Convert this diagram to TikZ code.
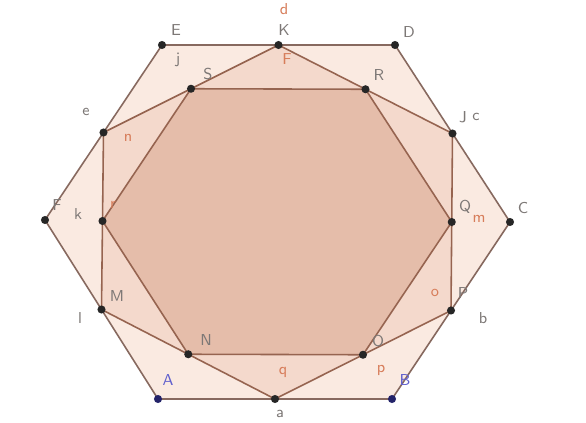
\documentclass[tikz,border=0pt]{standalone}
\usetikzlibrary{calc,backgrounds}
\definecolor{outerfill}{RGB}{250,234,225}
\definecolor{midfill}{RGB}{244,217,204}
\definecolor{innerfill}{RGB}{229,189,170}
\definecolor{outeredge}{RGB}{135,105,95}
\definecolor{hexbrown}{RGB}{150,100,80}
\definecolor{labelgray}{RGB}{125,120,118}
\definecolor{ptblue}{RGB}{35,35,105}
\definecolor{labelblue}{RGB}{95,95,205}
\definecolor{labelorange}{RGB}{215,125,90}

\begin{document}
\begin{tikzpicture}[x=0.02cm, y=-0.02cm,
  font=\sffamily\small,
  pt/.style={circle, fill=black!85, inner sep=0pt, minimum size=4.6pt},
  bluept/.style={pt, fill=ptblue},
  outer/.style={draw=outeredge, line width=0.9pt},
  hex/.style={draw=hexbrown, line width=0.9pt},
  lbl/.style={text=labelgray, inner sep=0pt},
  bluelbl/.style={lbl, text=labelblue},
  orangelbl/.style={lbl, text=labelorange}
]

\useasboundingbox (0,0) rectangle (586,423);

% outer hexagon
\node[bluept] (A) at (158,399) {};
\node[bluept] (B) at (392,399) {};
\node[pt] (C) at (510,222) {};
\node[pt] (D) at (395,45) {};
\node[pt] (E) at (162,45) {};
\node[pt] (F) at (45,220) {};

% midpoints of the sides
\node[pt] (H) at ($(A)!0.5!(B)$) {};
\node[pt] (I) at ($(B)!0.5!(C)$) {};
\node[pt] (J) at ($(C)!0.5!(D)$) {};
\node[pt] (K) at ($(D)!0.5!(E)$) {};
\node[pt] (L) at ($(E)!0.5!(F)$) {};
\node[pt] (M) at ($(F)!0.5!(A)$) {};

% inner hexagon
\node[pt] (N) at ($(M)!0.5!(H)$) {};
\node[pt] (O) at ($(H)!0.5!(I)$) {};
\node[pt] (Q) at ($(I)!0.5!(J)$) {};
\node[pt] (R) at ($(J)!0.5!(K)$) {};
\node[pt] (S) at ($(K)!0.5!(L)$) {};
\node[pt] (T) at ($(L)!0.5!(M)$) {};

\begin{scope}[on background layer]
  \fill[white] (0,0) rectangle (586,423);
  \fill[outerfill] (A.center) -- (B.center) -- (C.center) -- (D.center) -- (E.center) -- (F.center) -- cycle;
  \fill[midfill] (H.center) -- (I.center) -- (J.center) -- (K.center) -- (L.center) -- (M.center) -- cycle;
  \fill[innerfill] (N.center) -- (O.center) -- (Q.center) -- (R.center) -- (S.center) -- (T.center) -- cycle;
  \draw[outer] (A.center) -- (B.center) -- (C.center) -- (D.center) -- (E.center) -- (F.center) -- cycle;
  \draw[hex] (H.center) -- (I.center) -- (J.center) -- (K.center) -- (L.center) -- (M.center) -- cycle;
  \draw[hex] (N.center) -- (O.center) -- (Q.center) -- (R.center) -- (S.center) -- (T.center) -- cycle;
\end{scope}

% labels
\node[bluelbl] (labA) at (168,380) {A};
\node[bluelbl] (labB) at (405,380) {B};
\node[lbl] (labC) at (523,208) {C};
\node[lbl] (labD) at (409,32) {D};
\node[lbl] (labE) at (176,30) {E};
\node[lbl] (labF) at (57,205) {F};
\node[lbl] (labJ) at (463,117) {J};
\node[lbl] (labK) at (284,30) {K};
\node[lbl] (labM) at (117,296) {M};
\node[lbl] (labN) at (206,340) {N};
\node[lbl] (labO) at (378,341) {O};
\node[lbl] (labP) at (463,293) {P};
\node[lbl] (labQ) at (465,207) {Q};
\node[lbl] (labR) at (379,75) {R};
\node[lbl] (labS) at (208,74) {S};
\node[orangelbl] (labFt) at (287,59) {F};

\node[lbl] (laba) at (280,414) {a};
\node[lbl] (labb) at (483,318) {b};
\node[lbl] (labc) at (476,117) {c};
\node[orangelbl] (labd) at (284,9) {d};
\node[lbl] (labe) at (86,112) {e};
\node[lbl] (labl) at (80,318) {l};
\node[lbl] (labj) at (178,60) {j};
\node[lbl] (labk) at (78,214) {k};
\node[orangelbl] (labn) at (128,138) {n};
\node[orangelbl] (labr) at (113,205) {r};
\node[orangelbl] (labm) at (479,219) {m};
\node[orangelbl] (labo) at (435,293) {o};
\node[orangelbl] (labq) at (283,372) {q};
\node[orangelbl] (labp) at (381,370) {p};

\end{tikzpicture}
\end{document}
